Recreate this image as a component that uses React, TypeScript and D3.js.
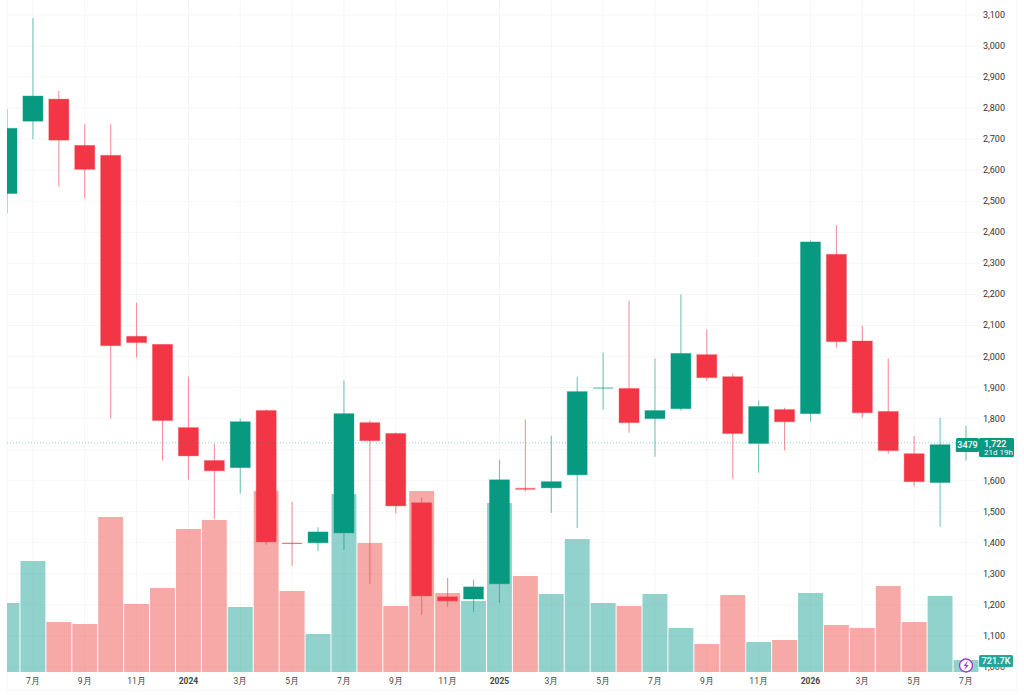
import React from "react";
import * as d3 from "d3";

const open = [2525,2758,2829,2680,2648,2065,2039,1771,1665,1642,1826,1400,1400,1432,1787,1752,1529,1226,1219,1268,1577,1577,1619,1897,1897,1800,1832,2006,1935,1720,1829,1816,2329,2050,1823,1687,1594,1694];
const close = [2735,2839,2697,2603,2035,2045,1794,1680,1632,1790,1403,1396,1435,1816,1729,1519,1229,1213,1258,1603,1571,1597,1887,1900,1787,1826,2010,1932,1752,1839,1790,2369,2048,1819,1697,1597,1716,1722];
const high = [2797,3090,2855,2748,2748,2174,2039,1935,1719,1800,1830,1532,1450,1923,1795,1755,1545,1287,1281,1668,1797,1745,1935,2013,2180,1994,2200,2087,1945,1858,1835,2374,2423,2100,1994,1745,1803,1777];
const low = [2461,2700,2548,2510,1800,1997,1665,1603,1477,1558,1394,1326,1374,1377,1268,1494,1168,1194,1177,1206,1565,1497,1448,1829,1755,1677,1825,1922,1606,1626,1697,1790,2029,1803,1687,1581,1452,1665];
const volume = [4140,6660,3000,2880,9300,4080,5040,8580,9120,3900,10860,4860,2280,10680,7740,3960,10860,4740,4260,10140,5760,4680,7980,4140,3960,4680,2640,1680,4620,1800,1920,4740,2820,2640,5160,3000,4560,722];
const priceTicks = [1000,1100,1200,1300,1400,1500,1600,1700,1800,1900,2000,2100,2200,2300,2400,2500,2600,2700,2800,2900,3000,3100];
const timeTickIndex = [1,3,5,7,9,11,13,15,17,19,21,23,25,27,29,31,33,35,37];
const timeTickLabels = ["7月","9月","11月","2024","3月","5月","7月","9月","11月","2025","3月","5月","7月","9月","11月","2026","3月","5月","7月"];

const UP = "#089981";
const DOWN = "#f23645";
const VOL_UP = "#26a69a";
const VOL_DOWN = "#ef5350";
const FONT = "'Roboto','Liberation Sans',sans-serif";

export default function App() {
  const x = d3.scaleLinear().domain([0, 37]).range([7, 966]);
  const y = d3.scaleLinear().domain([1000, 3100]).range([667, 15]);
  const vol = d3.scaleLinear().domain([0, 12000]).range([672, 472]);
  const step = x(1) - x(0);
  const bodyW = 20;
  const last = close[close.length - 1];
  return (
    <svg width={1024} height={695} style={{ position: "absolute", left: 0, top: 0, background: "#fff", fontFamily: FONT }}>
      <defs>
        <clipPath id="pane"><rect x={7} y={0} width={973} height={672} /></clipPath>
      </defs>
      <g stroke="#f6f6f7" strokeWidth={1}>
        {priceTicks.map((t) => <line key={t} x1={7} x2={980} y1={y(t)} y2={y(t)} />)}
        {timeTickIndex.map((i) => <line key={i} x1={x(i)} x2={x(i)} y1={0} y2={672} />)}
        <line x1={7} x2={7} y1={0} y2={690} />
        <line x1={7} x2={1017} y1={690} y2={690} />
        <line x1={1017} x2={1017} y1={0} y2={690} />
      </g>
      <g clipPath="url(#pane)">
        {volume.map((v, i) => (
          <rect key={i} x={x(i) - step / 2 + 0.5} width={step - 1} y={vol(v)} height={672 - vol(v)}
            fill={close[i] >= open[i] ? VOL_UP : VOL_DOWN} fillOpacity={0.5} />
        ))}
        {open.map((o, i) => {
          const c = close[i];
          const col = c >= o ? UP : DOWN;
          const top = y(Math.max(o, c));
          const bot = y(Math.min(o, c));
          const thin = bot - top < 2;
          return (
            <g key={i}>
              <line x1={x(i)} x2={x(i)} y1={y(high[i])} y2={y(low[i])} stroke={col} strokeOpacity={0.55} strokeWidth={1.1} />
              <rect x={x(i) - bodyW / 2} width={bodyW} y={top} height={Math.max(bot - top, 1)} fill={col} fillOpacity={thin ? 0.7 : 1} stroke={col} strokeOpacity={thin ? 0 : 0.35} strokeWidth={1} />
            </g>
          );
        })}
      </g>
      <line x1={7} x2={956} y1={y(last)} y2={y(last)} stroke={UP} strokeDasharray="1 2" strokeOpacity={0.45} />
      <g fontSize={9} fill="#333" textAnchor="middle">
        {priceTicks.filter((t) => t !== 1700).map((t) => (
          <text key={t} x={994} y={y(t) + 3}>{d3.format(",")(t)}</text>
        ))}
      </g>
      <g fontSize={8.5} fill="#444" textAnchor="middle">
        {timeTickIndex.map((i, k) => (
          <text key={i} x={x(i)} y={684} fontWeight={/^\d{4}$/.test(timeTickLabels[k]) ? 700 : 400}>{timeTickLabels[k]}</text>
        ))}
      </g>
      <rect x={956} y={438} width={23} height={14} rx={1.5} fill={UP} />
      <text x={967.5} y={447.5} fontSize={9} fill="#fff" fontWeight={500} textAnchor="middle">3479</text>
      <rect x={979} y={438} width={35} height={19} rx={1.5} fill={UP} />
      <text x={984} y={446.5} fontSize={9} fill="#fff" fontWeight={500}>1,722</text>
      <text x={984} y={455} fontSize={8} fill="#fff">21d 19h</text>
      <rect x={979} y={655} width={34} height={12} rx={1.5} fill="#26a69a" />
      <text x={996} y={664.3} fontSize={9} fill="#fff" fontWeight={500} textAnchor="middle">721.7K</text>
      <circle cx={966} cy={665.5} r={6.5} fill="#fff" stroke="#a93cc7" strokeWidth={1.4} />
      <path d={d3.line()([[968,660.5],[963.5,666],[966,666],[964.2,670.5],[968.7,665],[966.2,665]]) + "Z"} fill="#a93cc7" />
    </svg>
  );
}
